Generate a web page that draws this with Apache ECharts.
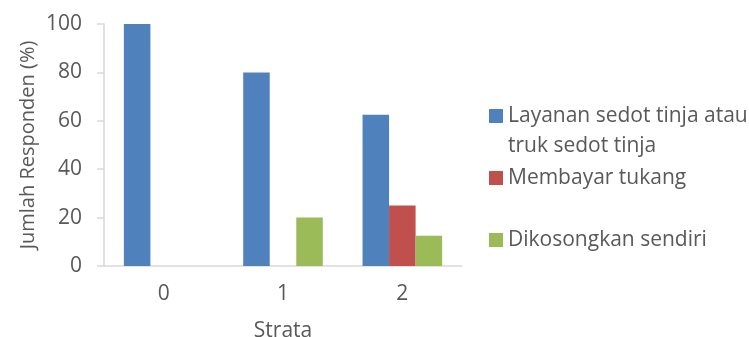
<!DOCTYPE html>
<html>
<head>
<meta charset="utf-8">
<script src="https://cdn.jsdelivr.net/npm/echarts@6/dist/echarts.min.js"></script>
<style>
  html, body { margin: 0; padding: 0; background: #fff; }
  #chart { width: 749px; height: 337px; }
</style>
</head>
<body>
<div id="chart"></div>
<script>
// Pengosongan tangki septik menurut strata
const categories = ['0', '1', '2'];
const seriesNames = [
  'Layanan sedot tinja atau truk sedot tinja',
  'Membayar tukang',
  'Dikosongkan sendiri'
];
const layananValues = [100, 80, 62.5];
const tukangValues = [0, 0, 25];
const sendiriValues = [0, 20, 12.5];
const yTicks = [0, 20, 40, 60, 80, 100];

const colors = ['#4F81BD', '#C0504D', '#9BBB59'];
const textColor = '#595959';
const fontFamily = '"Open Sans", "Noto Sans", sans-serif';
const fontSize = 21;

const legendBase = {
  orient: 'vertical',
  left: 489,
  padding: 0,
  itemWidth: 14,
  itemHeight: 14,
  icon: 'rect',
  selectedMode: false,
  textStyle: { color: textColor, fontFamily: fontFamily, fontSize: fontSize, lineHeight: 30 }
};

const chart = echarts.init(document.getElementById('chart'), null, { renderer: 'canvas' });
chart.setOption({
  animation: false,
  color: colors,
  grid: { left: 104, right: 287, top: 24, bottom: 71, outerBoundsMode: 'none', containLabel: false },
  legend: [
    Object.assign({}, legendBase, {
      top: 71,
      data: [seriesNames[0]],
      formatter: () => ' \nLayanan sedot tinja atau\ntruk sedot tinja'
    }),
    Object.assign({}, legendBase, { top: 163, data: [seriesNames[1]] }),
    Object.assign({}, legendBase, { top: 225, data: [seriesNames[2]] })
  ],
  xAxis: {
    type: 'category',
    data: categories,
    name: 'Strata',
    nameLocation: 'middle',
    nameGap: 55,
    nameTextStyle: { color: textColor, fontFamily: fontFamily, fontSize: fontSize },
    axisLine: { lineStyle: { color: '#D9D9D9', width: 1.5 } },
    axisTick: { show: false },
    axisLabel: { color: textColor, fontFamily: fontFamily, fontSize: fontSize, margin: 18 }
  },
  yAxis: {
    type: 'value',
    min: yTicks[0],
    max: yTicks[yTicks.length - 1],
    interval: yTicks[1] - yTicks[0],
    name: 'Jumlah Responden (%)',
    nameLocation: 'middle',
    nameGap: 66,
    nameTextStyle: { color: textColor, fontFamily: fontFamily, fontSize: 20 },
    axisLine: { show: true, lineStyle: { color: '#D9D9D9', width: 1.5 } },
    axisTick: { show: true, length: 7, lineStyle: { color: '#D9D9D9', width: 1.5 } },
    splitLine: { show: false },
    axisLabel: { color: textColor, fontFamily: fontFamily, fontSize: fontSize, margin: 22 }
  },
  series: [
    { name: seriesNames[0], type: 'bar', data: layananValues, barGap: '0%', barCategoryGap: '33.3%' },
    { name: seriesNames[1], type: 'bar', data: tukangValues, barGap: '0%', barCategoryGap: '33.3%' },
    { name: seriesNames[2], type: 'bar', data: sendiriValues, barGap: '0%', barCategoryGap: '33.3%' }
  ]
});
</script>
</body>
</html>
